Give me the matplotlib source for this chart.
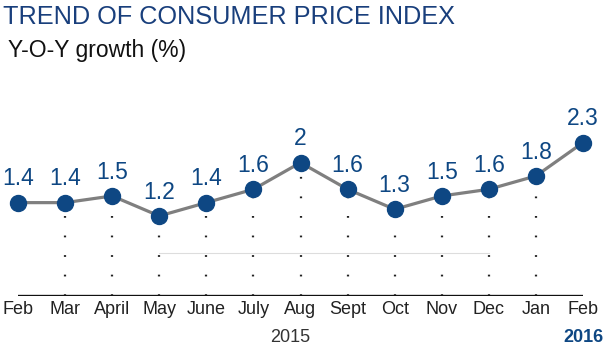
import matplotlib.pyplot as plt

# données
MOIS = ["Feb", "Mar", "April", "May", "June", "July", "Aug", "Sept", "Oct", "Nov", "Dec", "Jan", "Feb"]
CPI = [1.4, 1.4, 1.5, 1.2, 1.4, 1.6, 2.0, 1.6, 1.3, 1.5, 1.6, 1.8, 2.3]
LABELS = ["1.4", "1.4", "1.5", "1.2", "1.4", "1.6", "2", "1.6", "1.3", "1.5", "1.6", "1.8", "2.3"]

BLEU = "#0e4783"
plt.rcParams["font.family"] = ["Liberation Sans", "DejaVu Sans"]

fig = plt.figure(figsize=(6.05, 3.56), dpi=100)
ax = fig.add_axes([18 / 605, 60 / 356, 565 / 605, 173.4 / 356])
x = list(range(len(CPI)))

# pointillés verticaux (sauf premier et dernier point)
for i in x[1:-1]:
    ax.plot([i, i], [0, CPI[i] - 0.12], color="#222222", lw=1.6, linestyle=(0, (0.8, 8)),
            zorder=1, clip_on=False)

# ligne grise discrète
ax.plot([3, 10], [0.65, 0.65], color="#dddddd", lw=0.8, zorder=0)

ax.plot(x, CPI, color="#7f7f7f", lw=2.3, zorder=2, clip_on=False)
ax.plot(x, CPI, "o", color=BLEU, markersize=11.5, zorder=3, clip_on=False)
for i, v in enumerate(CPI):
    ax.annotate(LABELS[i], (i, v), xytext=(0, 12.5), textcoords="offset points",
                ha="center", va="baseline", fontsize=16.5, color=BLEU)

ax.axhline(0, color="#111111", lw=2.4, zorder=2)
ax.set_xlim(0, 12)
ax.set_ylim(0, 2.6)
ax.set_xticks([])
ax.set_yticks([])
for s in ax.spines.values():
    s.set_visible(False)

for i, m in enumerate(MOIS):
    fig.text((18 + i * 565 / 12) / 605, 1 - 310 / 356, m, ha="center", va="center",
             fontsize=13, color="#222222")
fig.text(290 / 605, 1 - 338 / 356, "2015", ha="center", va="center", fontsize=13, color="#333333")
fig.text(583 / 605, 1 - 338 / 356, "2016", ha="center", va="center", fontsize=13,
         color=BLEU, fontweight="bold")

fig.text(3 / 605, 1 - 17 / 356, "TREND OF CONSUMER PRICE INDEX", ha="left", va="center",
         fontsize=18.2, color="#193f7c")
fig.text(8 / 605, 1 - 51 / 356, "Y-O-Y growth (%)", ha="left", va="center",
         fontsize=16.5, color="#111111")

fig.savefig("out.png", dpi=100)
